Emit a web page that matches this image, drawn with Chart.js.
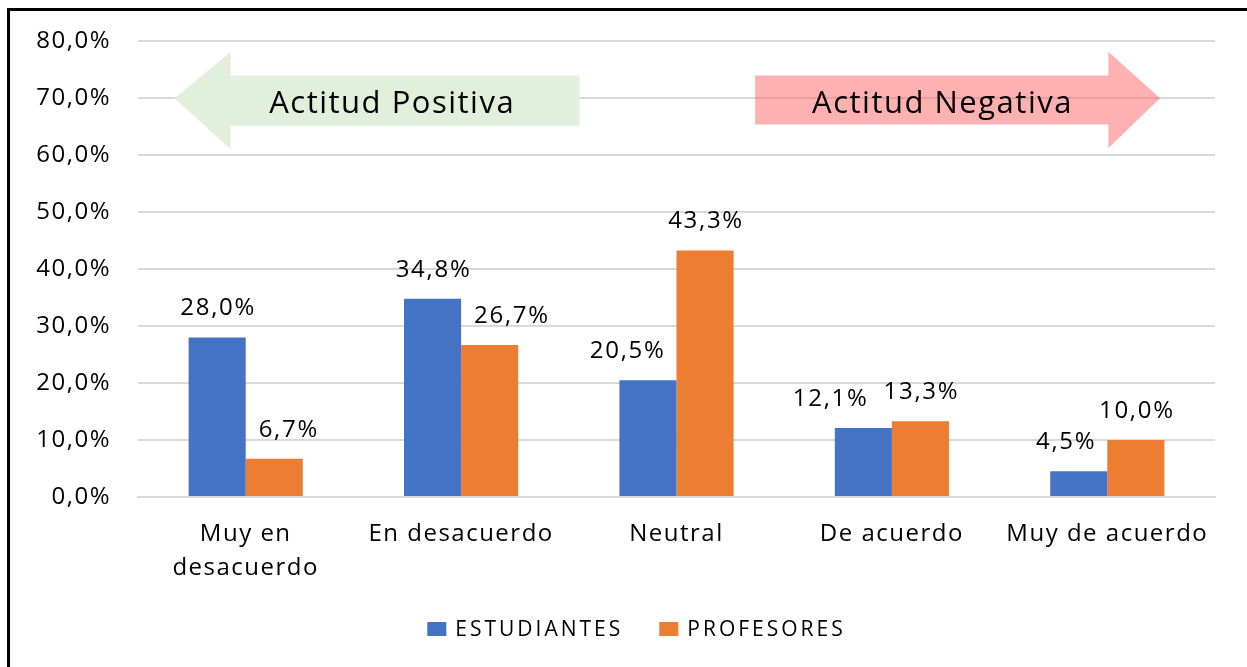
<!DOCTYPE html>
<html>
<head>
<meta charset="utf-8">
<script src="https://cdn.jsdelivr.net/npm/chart.js@4.4.1/dist/chart.umd.min.js"></script>
<style>
  html, body { margin: 0; padding: 0; background: #fff; overflow: hidden; }
  #frame { position: absolute; left: 7px; top: 8px; width: 1400px; height: 800px;
           border-left: 3px solid #000; border-top: 3px solid #000; }
  #chart { position: absolute; left: 0; top: 0; }
</style>
</head>
<body>
<div id="frame"></div>
<canvas id="chart" width="1247" height="667"></canvas>
<script>
// data
const categories = [['Muy en', 'desacuerdo'], 'En desacuerdo', 'Neutral', 'De acuerdo', 'Muy de acuerdo'];
const seriesNames = ['ESTUDIANTES', 'PROFESORES'];
const estudiantes = [28.0, 34.8, 20.5, 12.1, 4.5];
const profesores = [6.7, 26.7, 43.3, 13.3, 10.0];
const yTicks = [0, 10, 20, 30, 40, 50, 60, 70, 80];

const FONT = '"Open Sans", "Noto Sans", sans-serif';
const COLORS = ['#4472C4', '#ED7D31'];
const fmt = v => v.toFixed(1).replace('.', ',') + '%';

// the source text is drawn a bit spaced out
const spacing = {
  id: 'spacing',
  beforeUpdate(chart) { chart.ctx.letterSpacing = '1.5px'; },
  beforeDraw(chart) { chart.ctx.letterSpacing = '1.5px'; }
};

// arrows behind the bars
const arrowsPlugin = {
  id: 'arrows',
  beforeDatasetsDraw(chart) {
    const ctx = chart.ctx;
    const xs = chart.scales.x, ys = chart.scales.y;
    const X = d => xs.getPixelForDecimal(d);
    const Y = v => ys.getPixelForValue(v);

    ctx.save();
    // left arrow (green, opaque)
    ctx.fillStyle = '#E2EFDA';
    ctx.beginPath();
    ctx.moveTo(X(0.034), Y(70));
    ctx.lineTo(X(0.086), Y(78.2));
    ctx.lineTo(X(0.086), Y(74.0));
    ctx.lineTo(X(0.410), Y(74.0));
    ctx.lineTo(X(0.410), Y(65.2));
    ctx.lineTo(X(0.086), Y(65.2));
    ctx.lineTo(X(0.086), Y(61.0));
    ctx.closePath();
    ctx.fill();

    // right arrow (pink, see-through)
    ctx.fillStyle = 'rgba(255, 100, 100, 0.5)';
    ctx.beginPath();
    ctx.moveTo(X(0.949), Y(70));
    ctx.lineTo(X(0.901), Y(78.2));
    ctx.lineTo(X(0.901), Y(74.0));
    ctx.lineTo(X(0.573), Y(74.0));
    ctx.lineTo(X(0.573), Y(65.4));
    ctx.lineTo(X(0.901), Y(65.4));
    ctx.lineTo(X(0.901), Y(61.3));
    ctx.closePath();
    ctx.fill();

    ctx.fillStyle = '#000';
    ctx.font = '31px ' + FONT;
    ctx.letterSpacing = '1.5px';
    ctx.textAlign = 'center';
    ctx.textBaseline = 'middle';
    ctx.fillText('Actitud Positiva', X(0.236), Y(69.0));
    ctx.fillText('Actitud Negativa', X(0.747), Y(69.0));
    ctx.restore();
  }
};

// value labels above the bars, nudged sideways when they hit a neighbour
const valueLabels = {
  id: 'valueLabels',
  afterDatasetsDraw(chart) {
    const ctx = chart.ctx;
    const m0 = chart.getDatasetMeta(0).data;
    const m1 = chart.getDatasetMeta(1).data;
    ctx.save();
    ctx.font = '24px ' + FONT;
    ctx.letterSpacing = '1.7px';
    ctx.fillStyle = '#000';
    ctx.textAlign = 'center';
    ctx.textBaseline = 'middle';
    const h = 20;
    categories.forEach((c, i) => {
      const b = m0[i], o = m1[i];
      const tb = fmt(estudiantes[i]), to = fmt(profesores[i]);
      const wb = ctx.measureText(tb).width, wo = ctx.measureText(to).width;
      let lb = { x: b.x, y: b.y - 29 };
      let lo = { x: o.x, y: o.y - 29 };
      // orange label running into the blue bar
      if (lo.y + h / 2 > b.y && lo.x - wo / 2 < b.x + b.width / 2) {
        lo.x = b.x + b.width / 2 + 12 + wo / 2;
      }
      // blue label running into the orange bar
      if (lb.y + h / 2 > o.y && lb.x + wb / 2 > o.x - o.width / 2) {
        lb.x = o.x - o.width / 2 - 12 - wb / 2;
      }
      // labels overlapping each other
      const overlapX = (lb.x + wb / 2) - (lo.x - wo / 2);
      if (overlapX > -15 && Math.abs(lb.y - lo.y) < h) {
        lb.x -= overlapX + 15;
      }
      ctx.fillText(tb, lb.x + 1, lb.y);
      ctx.fillText(to, lo.x + 1, lo.y);
    });
    ctx.restore();
  }
};

// legend drawn by hand so its wide lettering can be matched
const legendPlugin = {
  id: 'bottomLegend',
  afterDraw(chart) {
    const ctx = chart.ctx;
    ctx.save();
    ctx.font = '21px ' + FONT;
    ctx.letterSpacing = '3px';
    ctx.textBaseline = 'middle';
    ctx.textAlign = 'left';
    const boxW = 19, boxH = 14, gap = 9, itemGap = 36;
    const widths = seriesNames.map(n => ctx.measureText(n).width);
    const total = widths.reduce((a, w) => a + boxW + gap + w, 0) + itemGap * (seriesNames.length - 1);
    let x = chart.width / 2 + 13 - total / 2;
    const y = chart.chartArea.bottom + 132;
    seriesNames.forEach((n, i) => {
      ctx.fillStyle = COLORS[i];
      ctx.fillRect(x, y - boxH / 2, boxW, boxH);
      x += boxW + gap;
      ctx.fillStyle = '#000';
      ctx.fillText(n, x, y + 1);
      x += widths[i] + itemGap;
    });
    ctx.restore();
  }
};

new Chart(document.getElementById('chart'), {
  type: 'bar',
  data: {
    labels: categories,
    datasets: [
      { label: seriesNames[0], data: estudiantes, backgroundColor: COLORS[0] },
      { label: seriesNames[1], data: profesores, backgroundColor: COLORS[1] }
    ]
  },
  options: {
    responsive: false,
    animation: false,
    devicePixelRatio: 1,
    layout: { padding: { top: 30, right: 32, bottom: 64, left: 0 } },
    datasets: { bar: { categoryPercentage: 0.53, barPercentage: 1 } },
    scales: {
      x: {
        grid: { display: false },
        border: { display: true, color: '#D9D9D9', width: 2 },
        ticks: {
          color: '#000',
          font: { family: FONT, size: 24, lineHeight: '34px' },
          padding: 12,
          maxRotation: 0,
          autoSkip: false
        },
        afterFit(s) { s.height = 106; }
      },
      y: {
        min: 0,
        max: 80,
        afterBuildTicks(s) { s.ticks = yTicks.map(v => ({ value: v })); },
        grid: { color: '#D9D9D9', lineWidth: 2, drawTicks: false },
        border: { display: false },
        ticks: {
          color: '#000',
          font: { family: FONT, size: 24 },
          padding: 27,
          callback: v => fmt(v)
        },
        afterFit(s) { s.width = 138; }
      }
    },
    plugins: {
      legend: { display: false },
      tooltip: { enabled: false }
    }
  },
  plugins: [spacing, arrowsPlugin, valueLabels, legendPlugin]
});
</script>
</body>
</html>
